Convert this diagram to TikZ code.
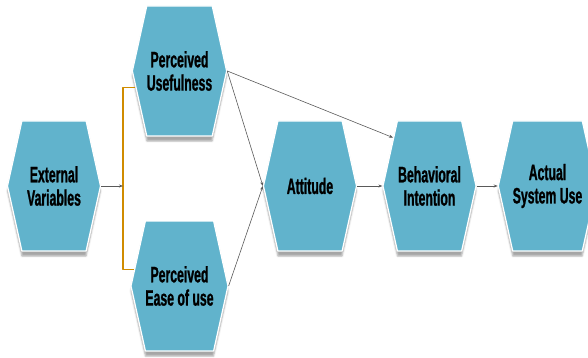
\documentclass[tikz,border=0pt]{standalone}
\usepackage{fontspec}
\newfontfamily\hexfont{Liberation Sans}[FakeStretch=0.55,FakeBold=1]
\usetikzlibrary{shapes.symbols,arrows.meta,shadows.blur}
\definecolor{hexblue}{HTML}{61B3CC}
\definecolor{bracketgold}{HTML}{D08C00}
\definecolor{linkgray}{HTML}{5A5A5A}
\begin{document}
\begin{tikzpicture}[x=1pt,y=-1pt,line join=round,
	hexa/.style={shape=signal,signal to=west and east,signal pointer angle=155,
		minimum width=\w pt,minimum height=\h pt,inner sep=0pt,
		fill=hexblue,draw=white,line width=1.2pt,
		blur shadow={shadow xshift=0pt,shadow yshift=-5pt,shadow opacity=35},
		font=\hexfont\bfseries\fontsize{22.3}{23.3}\selectfont,align=center},
	link/.style={draw=linkgray,line width=0.6pt,-{Stealth[length=4pt,width=3pt]}}]
		%==Kích thước khối
		\def\w{93}
		\def\h{130}
		%==============
		\useasboundingbox (0,0) rectangle (588,358);
		\node[hexa] (EV) at (54,186) {External\\Variables};
		\node[hexa] (PU) at (179.5,71) {Perceived\\Usefulness};
		\node[hexa] (PEU) at (179.5,286) {Perceived\\Ease of use};
		\node[hexa] (AT) at (310,186) {Attitude};
		\node[hexa] (BI) at (429.5,186) {Behavioral\\Intention};
		\node[hexa] (ASU) at (547.5,186) {Actual\\System Use};
		\coordinate (J) at (123,186);
		\draw[draw=bracketgold,line width=1.1pt] (PU.200)-|(J)|-(PEU.160);
		\draw[link] (EV.east)--(J);
		\draw[link] (PU.east)--(AT.west);
		\draw[link] (PEU.east)--(AT.west);
		\draw[link] (PU.east)--(BI.127);
		\draw[link] (AT.east)--(BI.west);
		\draw[link] (BI.east)--(ASU.west);
\end{tikzpicture}
\end{document}
